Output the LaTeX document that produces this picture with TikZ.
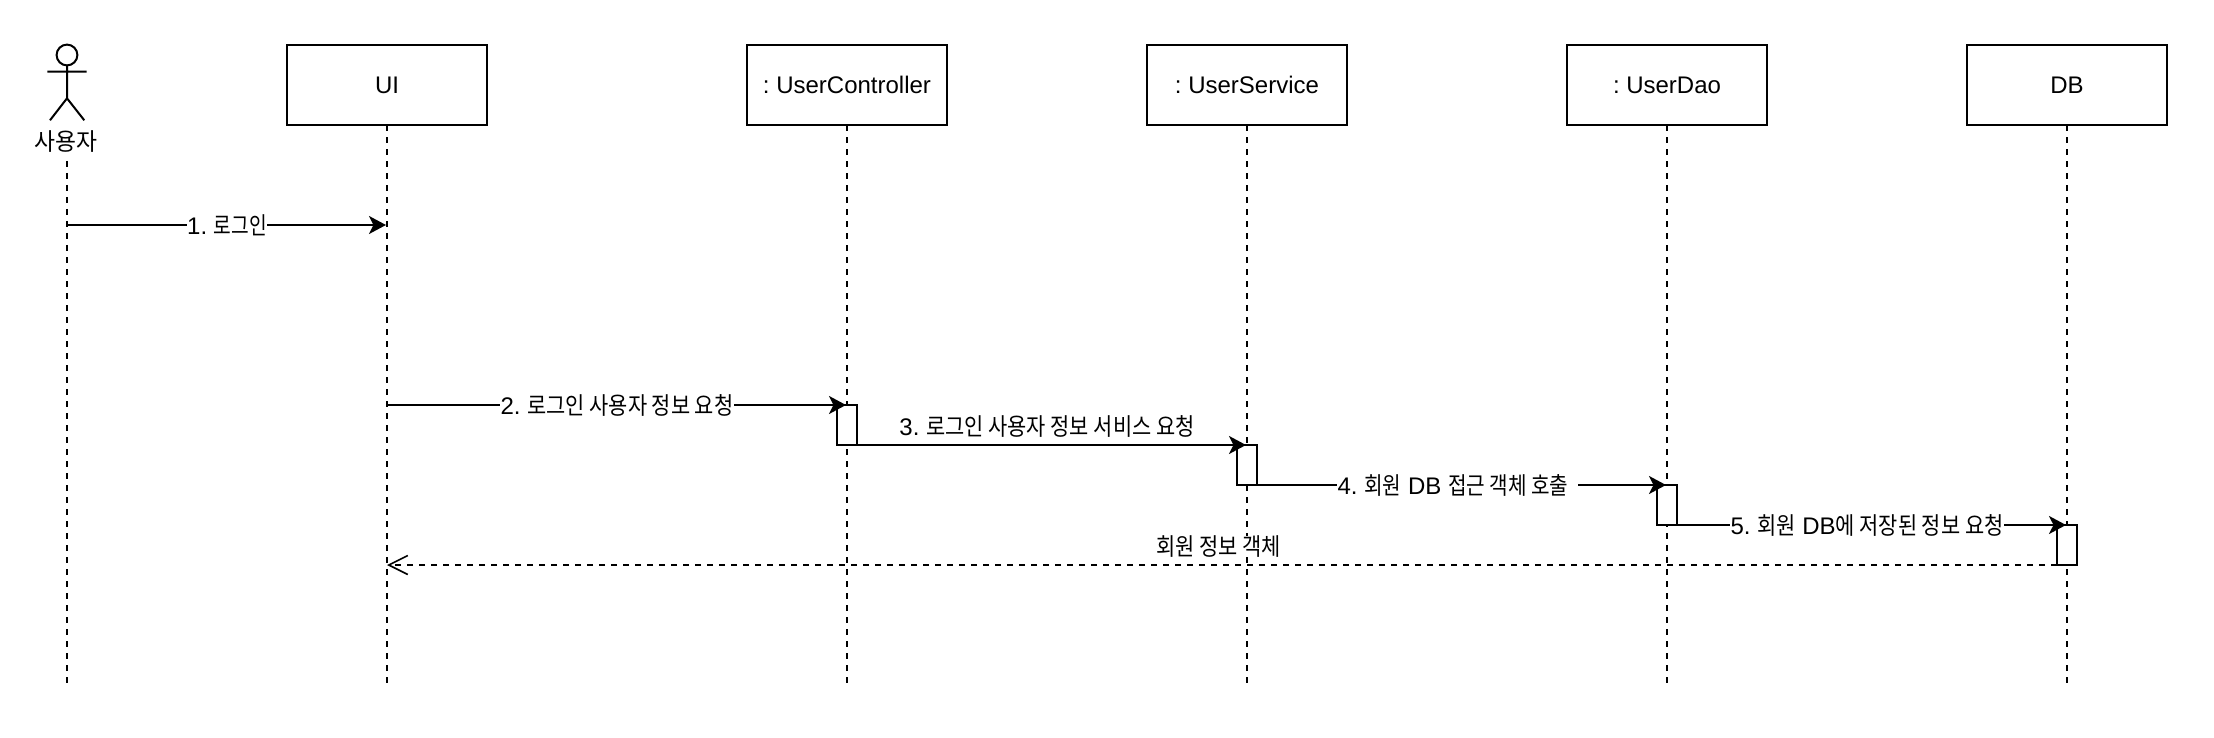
\documentclass[tikz,border=0pt]{standalone}
\usepackage{fontspec}
\setmainfont{Liberation Sans}
\newfontfamily\krfont[FakeStretch=0.87]{Noto Sans CJK KR}
\newfontfamily\krwide[FakeStretch=0.95]{Noto Sans CJK KR}
\newfontfamily\krnarrow[FakeStretch=0.84]{Noto Sans CJK KR}
\newfontfamily\krtight[FakeStretch=0.80]{Noto Sans CJK KR}
\newcommand{\K}[1]{{\krfont #1}}
\usetikzlibrary{arrows.meta}
\frenchspacing
\tikzset{
  lifebox/.style={draw=black,fill=white,line width=2pt,outer sep=0pt,minimum width=200pt,minimum height=80.5pt,inner sep=0pt,font=\fontsize{24}{28}\selectfont},
  act/.style={draw=black,fill=white,line width=2pt,outer sep=0pt,minimum width=20pt,minimum height=40pt,inner sep=0pt},
  life/.style={draw=black,line width=2pt,dash pattern=on 6pt off 6pt},
  msg/.style={draw=black,line width=2pt,shorten >=1pt,-{Stealth[length=17pt,width=18pt,inset=4.5pt]}},
  ret/.style={draw=black,line width=2pt,dash pattern=on 6pt off 6pt,-{Straight Barb[length=19pt,width=19pt,line width=1.6pt]}},
  lbl/.style={fill=white,inner xsep=0.5pt,inner ysep=0pt,font=\fontsize{24}{28}\selectfont},
  stick/.style={draw=black,line width=2pt}
}
\begin{document}
\begin{tikzpicture}[x=1pt,y=-1pt]
\useasboundingbox (0,0) rectangle (2214,738);
\fill[white] (0,0) rectangle (2214,738);
% lifeline ends
\coordinate (actorTop) at (67,161);
\coordinate (actorEnd) at (67,683);
\coordinate (uiEnd) at (387,683);
\coordinate (ctlEnd) at (847,683);
\coordinate (svcEnd) at (1247,683);
\coordinate (daoEnd) at (1667,683);
\coordinate (dbEnd) at (2067,683);
% heads
\node[lifebox] (ui) at (387,85) {\raisebox{-1pt}{UI}};
\node[lifebox] (ctl) at (847,85) {\raisebox{-1pt}{: UserController}};
\node[lifebox] (svc) at (1247,85) {\raisebox{-1pt}{: UserService}};
\node[lifebox] (dao) at (1667,85) {\raisebox{-1pt}{: UserDao}};
\node[lifebox] (db) at (2067,85) {\raisebox{-1pt}{DB}};
% lifelines
\draw[life] (actorTop) -- (actorEnd);
\draw[life] (ui.south) -- (uiEnd);
\draw[life] (ctl.south) -- (ctlEnd);
\draw[life] (svc.south) -- (svcEnd);
\draw[life] (dao.south) -- (daoEnd);
\draw[life] (db.south) -- (dbEnd);
% actor
\draw[stick] (67,55) circle (10.4);
\draw[stick] (67,65.4) -- (67,98.3) (47.3,71.7) -- (86.7,71.7) (50,120.3) -- (67,98.3) -- (84.3,120.3);
\node[lbl,fill=none] (actor) at (66,141.7) {{\krwide 사용자}};
% activations
\node[act] (a2) at (847,425) {};
\node[act] (a3) at (1247,465) {};
\node[act] (a4) at (1667,505) {};
\node[act] (a5) at (2067,545) {};
% message anchors
\coordinate (m1s) at (67,225);
\coordinate (m1e) at (387,225);
\coordinate (m2s) at (387,405);
\coordinate (r1e) at (387,565);
% messages
\draw[msg] (m1s) -- node[lbl] (t1) {1. {\krtight 로그인}} (m1e);
\draw[msg] (m2s) -- node[lbl] (t2) {2. \K{로그인 사용자 정보 요청}} (a2.north);
\draw[msg] (a2.south west) -- (a3.north);
\node[lbl] (t3) at (1047,426.5) {3. \K{로그인 사용자 정보 서비스 요청}};
\draw[msg] (a3.south west) -- (a4.north);
\node[lbl] (t4) at (1457.5,485) {4. {\krnarrow 회원} DB {\krnarrow 접근 객체 호출}\kern9pt};
\draw[msg] (a4.south west) -- (a5.north);
\node[lbl] (t5) at (1867,525) {5. \K{회원} DB\K{에 저장된 정보 요청}};
\draw[ret] (a5.south west) -- (r1e);
\node[lbl] (t6) at (1218.5,546.5) {\K{회원 정보 객체}};
\end{tikzpicture}
\end{document}
